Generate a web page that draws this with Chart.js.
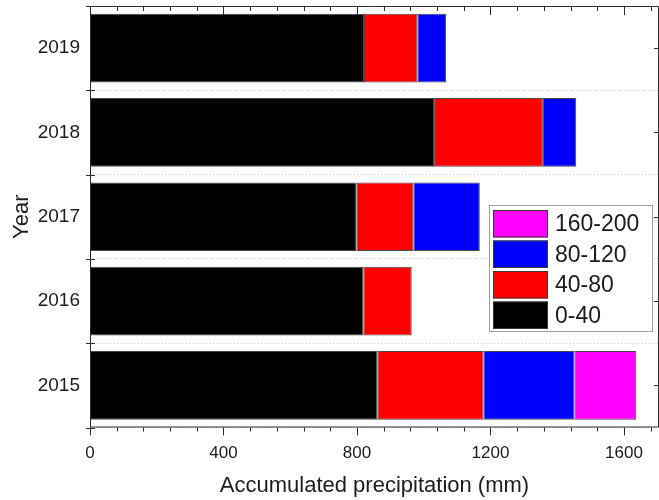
<!DOCTYPE html>
<html>
<head>
<meta charset="utf-8">
<title>Accumulated precipitation</title>
<script src="https://cdn.jsdelivr.net/npm/chart.js@4.4.1/dist/chart.umd.min.js"></script>
<style>
    html, body { margin: 0; padding: 0; background: #fff; }
    #wrap { width: 659px; height: 500px; }
</style>
</head>
<body>
<div id="wrap"><canvas id="precip-chart" width="659" height="500"></canvas></div>
<script>
const years = ['2019', '2018', '2017', '2016', '2015'];
const rain0to40 = [821, 1031, 799, 819, 861];
const rain40to80 = [160, 326, 170, 145, 318];
const rain80to120 = [86, 100, 199, null, 273];
const rain160to200 = [null, null, null, null, 185];
const seriesNames = ['0-40', '40-80', '80-120', '160-200'];
const seriesColors = ['#000000', '#ff0000', '#0000ff', '#ff00ff'];
const xTickValues = [0, 400, 800, 1200, 1600];
const xMinorStep = 80;

const FONT = "'Liberation Sans', Arial, sans-serif";
const INK = '#1c1c1c';

document.addEventListener('DOMContentLoaded', function () {
    drawChart();
});

// frame with Origin-style ticks on all four sides
const frameTicks = {
    id: 'frameTicks',
    afterDraw(chart) {
        const { ctx, chartArea: a } = chart;
        const xs = chart.scales.x;
        const ys = chart.scales.y;
        ctx.save();
        ctx.strokeStyle = '#2a2a2a';
        ctx.lineWidth = 1;
        ctx.beginPath();
        ctx.rect(a.left + 0.5, a.top + 0.5, a.right - a.left - 1, a.bottom - a.top - 1);
        ctx.stroke();

        ctx.beginPath();
        for (let v = 0; v <= xs.max; v += xMinorStep) {
            const x = Math.round(xs.getPixelForValue(v)) + 0.5;
            const major = v % 400 === 0;
            ctx.moveTo(x, a.bottom);
            ctx.lineTo(x, a.bottom + (major ? 8 : 4));
            ctx.moveTo(x, a.top);
            ctx.lineTo(x, a.top + (major ? 9 : 5));
        }
        for (let i = 0; i <= years.length; i++) {
            const y = Math.round(ys.getPixelForValue(i - 0.5)) + 0.5;
            ctx.moveTo(a.left - 4, y);
            ctx.lineTo(a.left + (i === 0 ? 0 : 5), y);
        }
        for (let i = 0; i < years.length; i++) {
            const y = Math.round(ys.getPixelForValue(i)) + 0.5;
            ctx.moveTo(a.right - 5, y);
            ctx.lineTo(a.right, y);
        }
        ctx.stroke();
        ctx.restore();
    }
};

// boxed legend inside the plot, highest class first
const boxLegend = {
    id: 'boxLegend',
    afterDraw(chart) {
        const { ctx } = chart;
        const box = { x: 489.5, y: 205.5, w: 163, h: 126 };
        ctx.save();
        ctx.fillStyle = '#fff';
        ctx.fillRect(box.x, box.y, box.w, box.h);
        ctx.strokeStyle = '#a0a0a0';
        ctx.lineWidth = 1;
        ctx.strokeRect(box.x, box.y, box.w, box.h);

        const sets = chart.data.datasets.slice().reverse();
        ctx.font = '23px ' + FONT;
        ctx.textBaseline = 'middle';
        sets.forEach((ds, i) => {
            const top = 210 + i * 30.5;
            ctx.fillStyle = ds.backgroundColor;
            ctx.fillRect(493, top, 55, 27.5);
            ctx.strokeStyle = '#3a3a3a';
            ctx.strokeRect(493.5, top + 0.5, 54, 26.5);
            ctx.fillStyle = INK;
            ctx.fillText(ds.label, 555, top + 15);
        });
        ctx.restore();
    }
};

function drawChart() {
    const values = [rain0to40, rain40to80, rain80to120, rain160to200];
    const datasets = values.map((data, i) => ({
        label: seriesNames[i],
        data: data,
        backgroundColor: seriesColors[i],
        borderColor: '#4a4a4a',
        borderWidth: 1,
        borderSkipped: false,
        categoryPercentage: 1,
        barPercentage: 0.815
    }));

    const ctx = document.getElementById('precip-chart').getContext('2d');
    new Chart(ctx, {
        type: 'bar',
        data: {
            labels: years,
            datasets: datasets
        },
        options: {
            indexAxis: 'y',
            responsive: false,
            animation: false,
            layout: {
                padding: { top: 6, right: -1, bottom: 0, left: 0 }
            },
            scales: {
                x: {
                    stacked: true,
                    min: 0,
                    max: 1705,
                    afterBuildTicks: scale => {
                        scale.ticks = xTickValues.map(v => ({ value: v }));
                    },
                    afterFit: scale => {
                        scale.height = 72.5;
                        scale.paddingLeft = 0;
                        scale.paddingRight = 0;
                    },
                    grid: { display: false, drawTicks: false },
                    border: { display: false },
                    ticks: {
                        padding: 16,
                        color: INK,
                        font: { family: FONT, size: 17 },
                        maxRotation: 0,
                        callback: value => String(value)
                    },
                    title: {
                        display: true,
                        text: 'Accumulated precipitation (mm)',
                        color: INK,
                        font: { family: FONT, size: 22 },
                        padding: { top: 2, bottom: 1 }
                    }
                },
                y: {
                    stacked: true,
                    afterFit: scale => {
                        scale.width = 90;
                        scale.paddingTop = 0;
                        scale.paddingBottom = 0;
                    },
                    grid: {
                        color: '#c4c4c4',
                        lineWidth: 1,
                        drawTicks: false
                    },
                    border: { display: false, dash: [1, 2] },
                    ticks: {
                        padding: 10,
                        color: INK,
                        font: { family: FONT, size: 19 }
                    },
                    title: {
                        display: true,
                        text: 'Year',
                        color: INK,
                        font: { family: FONT, size: 22 },
                        padding: { top: 9, bottom: 0 }
                    }
                }
            },
            plugins: {
                legend: { display: false },
                tooltip: { enabled: false }
            }
        },
        plugins: [frameTicks, boxLegend]
    });
}
</script>
</body>
</html>
